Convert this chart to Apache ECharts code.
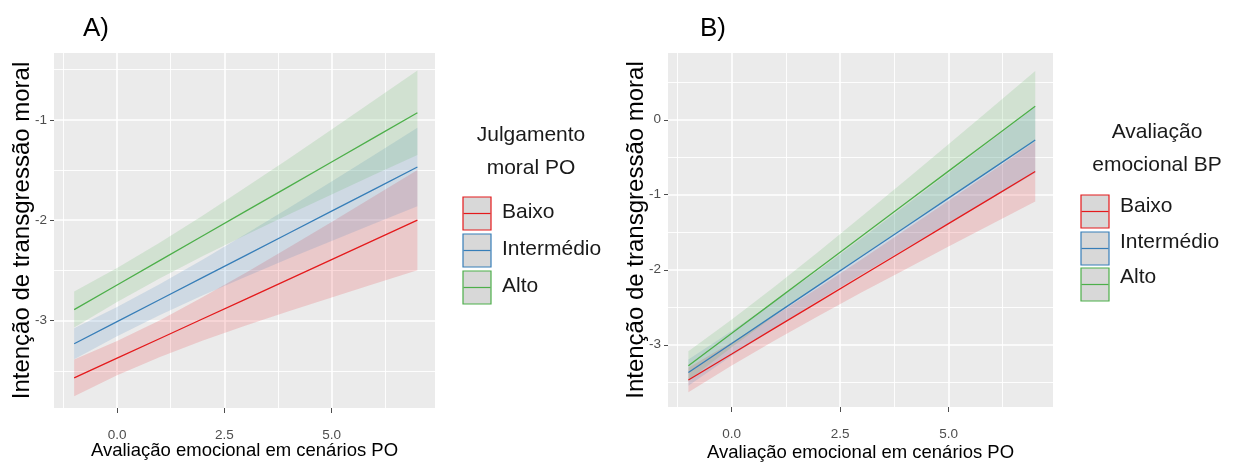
<!DOCTYPE html>
<html>
<head>
<meta charset="utf-8">
<script src="https://cdn.jsdelivr.net/npm/echarts@6/dist/echarts.min.js"></script>
<style>
html,body{margin:0;padding:0;background:#fff;}
#chart{width:1235px;height:470px;}
</style>
</head>
<body>
<div id="chart"></div>
<script>
// ---------- data ----------
const xs = [-1, 0, 1, 2, 3, 4, 5, 6, 7];
const groups = ['Baixo', 'Intermédio', 'Alto'];
const colors = ['#E41A1C', '#377EB8', '#4DAF4A'];

// Panel A – Julgamento moral PO
const aBaixoFit = [-3.57, -3.374, -3.178, -2.981, -2.785, -2.589, -2.393, -2.196, -2.0];
const aBaixoLo  = [-3.753, -3.544, -3.361, -3.198, -3.048, -2.907, -2.769, -2.633, -2.499];
const aBaixoHi  = [-3.387, -3.204, -2.995, -2.764, -2.522, -2.271, -2.017, -1.759, -1.501];
const aInterFit = [-3.23, -3.01, -2.79, -2.57, -2.35, -2.13, -1.91, -1.69, -1.47];
const aInterLo  = [-3.384, -3.155, -2.944, -2.748, -2.562, -2.382, -2.206, -2.032, -1.86];
const aInterHi  = [-3.076, -2.865, -2.636, -2.392, -2.138, -1.878, -1.614, -1.348, -1.08];
const aAltoFit  = [-2.89, -2.645, -2.40, -2.155, -1.91, -1.665, -1.42, -1.175, -0.93];
const aAltoLo   = [-3.069, -2.815, -2.579, -2.357, -2.147, -1.943, -1.743, -1.546, -1.35];
const aAltoHi   = [-2.711, -2.475, -2.221, -1.953, -1.673, -1.387, -1.097, -0.804, -0.51];

// Panel B – Avaliação emocional BP
const bBaixoFit = [-3.47, -3.123, -2.775, -2.428, -2.08, -1.733, -1.385, -1.038, -0.69];
const bBaixoLo  = [-3.634, -3.278, -2.939, -2.615, -2.301, -1.995, -1.691, -1.39, -1.09];
const bBaixoHi  = [-3.306, -2.968, -2.611, -2.241, -1.859, -1.471, -1.079, -0.686, -0.29];
const bInterFit = [-3.37, -2.983, -2.595, -2.208, -1.82, -1.433, -1.045, -0.658, -0.27];
const bInterLo  = [-3.545, -3.148, -2.77, -2.41, -2.06, -1.719, -1.38, -1.045, -0.71];
const bInterHi  = [-3.195, -2.818, -2.42, -2.006, -1.58, -1.147, -0.71, -0.271, 0.17];
const bAltoFit  = [-3.28, -2.848, -2.415, -1.983, -1.55, -1.118, -0.685, -0.253, 0.18];
const bAltoLo   = [-3.475, -3.033, -2.61, -2.205, -1.812, -1.427, -1.045, -0.667, -0.29];
const bAltoHi   = [-3.085, -2.663, -2.22, -1.761, -1.288, -0.809, -0.325, 0.161, 0.65];

// ticks
const xTicks = [0, 2.5, 5];
const xMinor = [-1.25, 1.25, 3.75, 6.25];
const aYTicks = [-3, -2, -1];
const aYMinor = [-3.5, -2.5, -1.5, -0.5];
const bYTicks = [-3, -2, -1, 0];
const bYMinor = [-3.5, -2.5, -1.5, -0.5, 0.5];

const xTitle = 'Avaliação emocional em cenários PO';
const yTitle = 'Intenção de transgressão moral';
const aLegendTitle = ['Julgamento', 'moral PO'];
const bLegendTitle = ['Avaliação', 'emocional BP'];

// ---------- helpers ----------
const FONT = '"Liberation Sans", Arial, sans-serif';
const pairs = (x, y) => x.map((v, i) => [v, y[i]]);

function gridSeries(idx, yMajor, yMinorArr) {
  const major = {color: '#FFFFFF', width: 1.6, type: 'solid'};
  const minor = {color: '#FFFFFF', width: 0.9, type: 'solid'};
  const data = [];
  xTicks.forEach(v => data.push({xAxis: v, lineStyle: major}));
  xMinor.forEach(v => data.push({xAxis: v, lineStyle: minor}));
  yMajor.forEach(v => data.push({yAxis: v, lineStyle: major}));
  yMinorArr.forEach(v => data.push({yAxis: v, lineStyle: minor}));
  return {
    type: 'line', xAxisIndex: idx, yAxisIndex: idx, data: [], silent: true, z: 1,
    markLine: {silent: true, symbol: ['none', 'none'], label: {show: false}, z: 1,
      animation: false, emphasis: {disabled: true}, data: data}
  };
}

function groupSeries(idx, lo, hi, fit, color) {
  const band = {
    type: 'custom', xAxisIndex: idx, yAxisIndex: idx, silent: true, z: 2,
    data: xs.map((x, i) => [x, lo[i], hi[i]]),
    encode: {x: 0, y: [1, 2]},
    renderItem: function (params, api) {
      if (params.dataIndex !== 0) return {type: 'group', children: []};
      const pts = [];
      for (let i = 0; i < xs.length; i++) pts.push(api.coord([xs[i], hi[i]]));
      for (let i = xs.length - 1; i >= 0; i--) pts.push(api.coord([xs[i], lo[i]]));
      return {type: 'polygon', shape: {points: pts}, style: {fill: color, opacity: 0.16}};
    }
  };
  const line = {type: 'line', xAxisIndex: idx, yAxisIndex: idx, data: pairs(xs, fit), symbol: 'none',
    lineStyle: {color: color, width: 1.3}, silent: true, z: 3};
  return [band, line];
}

function xAxisDef(idx, gap) {
  return {
    type: 'value', gridIndex: idx, min: -1.47, max: 7.41,
    splitLine: {show: false}, axisLine: {show: false, onZero: false},
    axisTick: {show: true, customValues: xTicks, length: 5, lineStyle: {color: '#4D4D4D', width: 1}},
    axisLabel: {customValues: xTicks, formatter: v => v.toFixed(1), margin: 20,
      fontFamily: FONT, fontSize: 13.5, color: '#4D4D4D'},
    name: xTitle, nameLocation: 'middle', nameGap: gap, nameMoveOverlap: false,
    nameTextStyle: {fontFamily: FONT, fontSize: 18.5, color: '#000'}
  };
}
function yAxisDef(idx, min, max, ticks) {
  return {
    type: 'value', gridIndex: idx, min: min, max: max,
    splitLine: {show: false}, axisLine: {show: false, onZero: false},
    axisTick: {show: true, customValues: ticks, length: 4, lineStyle: {color: '#4D4D4D', width: 1}},
    axisLabel: {customValues: ticks, formatter: v => String(v), margin: 7,
      fontFamily: FONT, fontSize: 13.5, color: '#4D4D4D'},
    name: yTitle, nameLocation: 'middle', nameGap: 20, nameMoveOverlap: false,
    nameTextStyle: {fontFamily: FONT, fontSize: 24, color: '#000'}
  };
}

function legendGraphics(titleLines, cx, titleY, boxX, boxTops, textYs) {
  const els = [];
  titleLines.forEach((t, i) => els.push({
    type: 'text', silent: true, position: [cx, titleY[i]],
    style: {text: t, x: 0, y: 0, font: '21px ' + FONT, fill: '#1A1A1A', align: 'center', verticalAlign: 'middle'}
  }));
  groups.forEach((g, i) => {
    els.push({type: 'rect', silent: true, shape: {x: boxX, y: boxTops[i], width: 28, height: 33},
      style: {fill: '#D8D8D8', stroke: colors[i], lineWidth: 1.2}});
    els.push({type: 'line', silent: true, shape: {x1: boxX + 0.5, y1: boxTops[i] + 16.5, x2: boxX + 27.5, y2: boxTops[i] + 16.5},
      style: {stroke: colors[i], lineWidth: 1.2}});
    els.push({type: 'text', silent: true, position: [boxX + 39, textYs[i]],
      style: {text: g, x: 0, y: 0, font: '21px ' + FONT, fill: '#1A1A1A', align: 'left', verticalAlign: 'middle'}});
  });
  return els;
}

const chart = echarts.init(document.getElementById('chart'), null, {renderer: 'canvas'});

const series = [
  gridSeries(0, aYTicks, aYMinor),
  gridSeries(1, bYTicks, bYMinor),
  ...groupSeries(0, aBaixoLo, aBaixoHi, aBaixoFit, colors[0]),
  ...groupSeries(0, aInterLo, aInterHi, aInterFit, colors[1]),
  ...groupSeries(0, aAltoLo, aAltoHi, aAltoFit, colors[2]),
  ...groupSeries(1, bBaixoLo, bBaixoHi, bBaixoFit, colors[0]),
  ...groupSeries(1, bInterLo, bInterHi, bInterFit, colors[1]),
  ...groupSeries(1, bAltoLo, bAltoHi, bAltoFit, colors[2])
];

const graphics = [
  {type: 'text', silent: true, position: [96, 29],
   style: {text: 'A)', x: 0, y: 0, font: '26px ' + FONT, fill: '#000', align: 'center', verticalAlign: 'middle'}},
  {type: 'text', silent: true, position: [713, 29],
   style: {text: 'B)', x: 0, y: 0, font: '26px ' + FONT, fill: '#000', align: 'center', verticalAlign: 'middle'}},
  ...legendGraphics(aLegendTitle, 531, [135, 168], 463, [197, 234, 271], [212, 249, 286]),
  ...legendGraphics(bLegendTitle, 1157, [132, 165], 1081, [195, 232, 268], [206, 242, 277])
];

chart.setOption({
  animation: false,
  backgroundColor: '#FFFFFF',
  grid: [
    {left: 54, top: 53, width: 381, height: 355, show: true, backgroundColor: '#EBEBEB', borderWidth: 0},
    {left: 668, top: 53, width: 385, height: 354, show: true, backgroundColor: '#EBEBEB', borderWidth: 0}
  ],
  xAxis: [xAxisDef(0, 33), xAxisDef(1, 36)],
  yAxis: [yAxisDef(0, -3.87, -0.335, aYTicks), yAxisDef(1, -3.83, 0.89, bYTicks)],
  series: series,
  graphic: graphics
});
</script>
</body>
</html>
